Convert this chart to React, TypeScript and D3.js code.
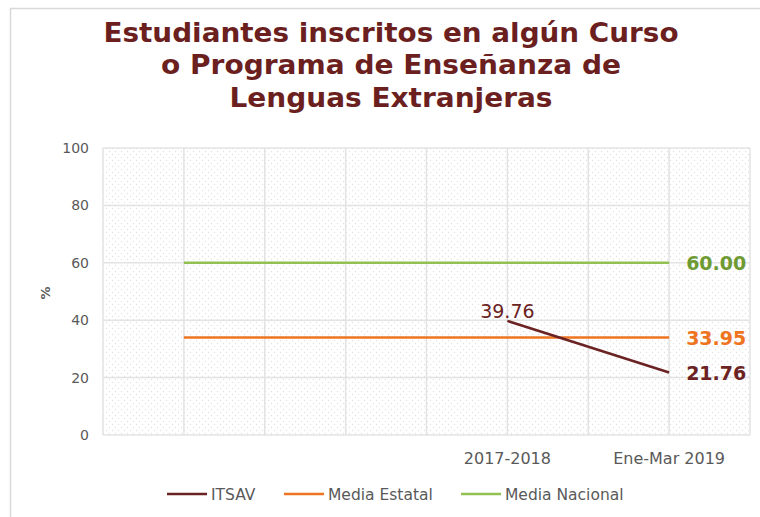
import React from "react";
import * as d3 from "d3";

const categories = ["", "", "", "", "", "2017-2018", "", "Ene-Mar 2019", ""];
const itsav: (number | null)[] = [null, null, null, null, null, 39.76, null, 21.76, null];
const mediaEstatal: (number | null)[] = [null, 33.95, 33.95, 33.95, 33.95, 33.95, 33.95, 33.95, null];
const mediaNacional: (number | null)[] = [null, 60, 60, 60, 60, 60, 60, 60, null];
const yTicks = [0, 20, 40, 60, 80, 100];
const titleLines = [
  "Estudiantes inscritos en algún Curso",
  "o Programa de Enseñanza de",
  "Lenguas Extranjeras",
];
const titleWidths = [575, 460, 323];
const seriesNames = ["ITSAV", "Media Estatal", "Media Nacional"];

const W = 760;
const H = 517;
const left = 103;
const right = 750;
const top = 148;
const bottom = 435;

const COL_ITSAV = "#6B2222";
const COL_EST = "#EE7421";
const COL_NAC = "#92C152";
const COL_NAC_LABEL = "#6E9A33";
const TITLE = "#6B1F1F";
const GRAY = "#595959";

export default function App() {
  const idx = categories.map((_, i) => String(i));
  const x = d3.scalePoint<string>().domain(idx).range([left, right]);
  const y = d3.scaleLinear().domain([0, 100]).range([bottom, top]);

  const mk = (vals: (number | null)[]) => {
    const pts = vals
      .map((v, i) => ({ v, i }))
      .filter((d) => d.v !== null) as { v: number; i: number }[];
    const line = d3
      .line<{ v: number; i: number }>()
      .x((d) => x(String(d.i)) as number)
      .y((d) => y(d.v));
    return { path: line(pts) || "", pts };
  };

  const series = [
    { name: seriesNames[0], vals: itsav, color: COL_ITSAV, label: COL_ITSAV },
    { name: seriesNames[1], vals: mediaEstatal, color: COL_EST, label: COL_EST },
    { name: seriesNames[2], vals: mediaNacional, color: COL_NAC, label: COL_NAC_LABEL },
  ].map((s) => ({ ...s, ...mk(s.vals) }));

  const itsavPts = series[0].pts;
  const legendX = [167, 284, 461];

  return (
    <svg width={W} height={H} style={{ position: "absolute", left: 0, top: 0 }}>
      <defs>
        <pattern id="dots" width="6" height="6" patternUnits="userSpaceOnUse">
          <rect width="6" height="6" fill="#ffffff" />
          <circle cx="1.5" cy="1.5" r="0.7" fill="#e2e2e2" />
          <circle cx="4.5" cy="4.5" r="0.7" fill="#e2e2e2" />
        </pattern>
      </defs>
      <rect x={0} y={0} width={W} height={H} fill="#ffffff" />
      <path d={`M10.5,${H} V8.5 H${W}`} fill="none" stroke="#d9d9d9" strokeWidth={1.5} />

      {titleLines.map((t, i) => (
        <text
          key={i}
          x={391}
          y={42 + i * 32.3}
          textAnchor="middle"
          fontFamily="DejaVu Sans"
          fontWeight="bold"
          fontSize={26}
          fill={TITLE}
          textLength={titleWidths[i]}
          lengthAdjust="spacingAndGlyphs"
        >
          {t}
        </text>
      ))}

      <rect x={left} y={top} width={right - left} height={bottom - top} fill="url(#dots)" />
      {yTicks.map((t) => (
        <line key={t} x1={left} x2={right} y1={y(t)} y2={y(t)} stroke="#e3e3e3" strokeWidth={1.5} />
      ))}
      {idx.map((k) => (
        <line key={k} x1={x(k)} x2={x(k)} y1={top} y2={bottom} stroke="#e3e3e3" strokeWidth={1.5} />
      ))}

      {yTicks.map((t) => (
        <text
          key={t}
          x={89}
          y={y(t) + 5}
          textAnchor="end"
          fontFamily="DejaVu Sans"
          fontSize={14}
          fill={GRAY}
        >
          {t}
        </text>
      ))}
      <text
        transform={`translate(50,${293}) rotate(-90)`}
        textAnchor="middle"
        fontFamily="DejaVu Sans"
        fontWeight="bold"
        fontSize={13}
        fill={GRAY}
      >
        %
      </text>

      {categories.map((c, i) =>
        c ? (
          <text
            key={i}
            x={x(String(i))}
            y={464}
            textAnchor="middle"
            fontFamily="DejaVu Sans"
            fontSize={16}
            fill={GRAY}
          >
            {c}
          </text>
        ) : null
      )}

      {[series[2], series[1], series[0]].map((s) => (
        <path key={s.name} d={s.path} fill="none" stroke={s.color} strokeWidth={2.5} />
      ))}

      <text
        x={x(String(itsavPts[0].i))}
        y={y(itsavPts[0].v) - 3}
        textAnchor="middle"
        fontFamily="DejaVu Sans"
        fontSize={19}
        fill={COL_ITSAV}
      >
        {itsavPts[0].v.toFixed(2)}
      </text>

      {series.map((s) => {
        const last = s.pts[s.pts.length - 1];
        return (
          <text
            key={s.name}
            x={(x(String(last.i)) as number) + 17}
            y={y(last.v) + 7}
            fontFamily="DejaVu Sans"
            fontWeight="bold"
            fontSize={19}
            fill={s.label}
          >
            {last.v.toFixed(2)}
          </text>
        );
      })}

      {series.map((s, i) => (
        <g key={s.name}>
          <line x1={legendX[i]} x2={legendX[i] + 40} y1={494} y2={494} stroke={s.color} strokeWidth={2.5} />
          <text x={legendX[i] + 44} y={499.5} fontFamily="DejaVu Sans" fontSize={15.5} fill={GRAY}>
            {s.name}
          </text>
        </g>
      ))}
    </svg>
  );
}
